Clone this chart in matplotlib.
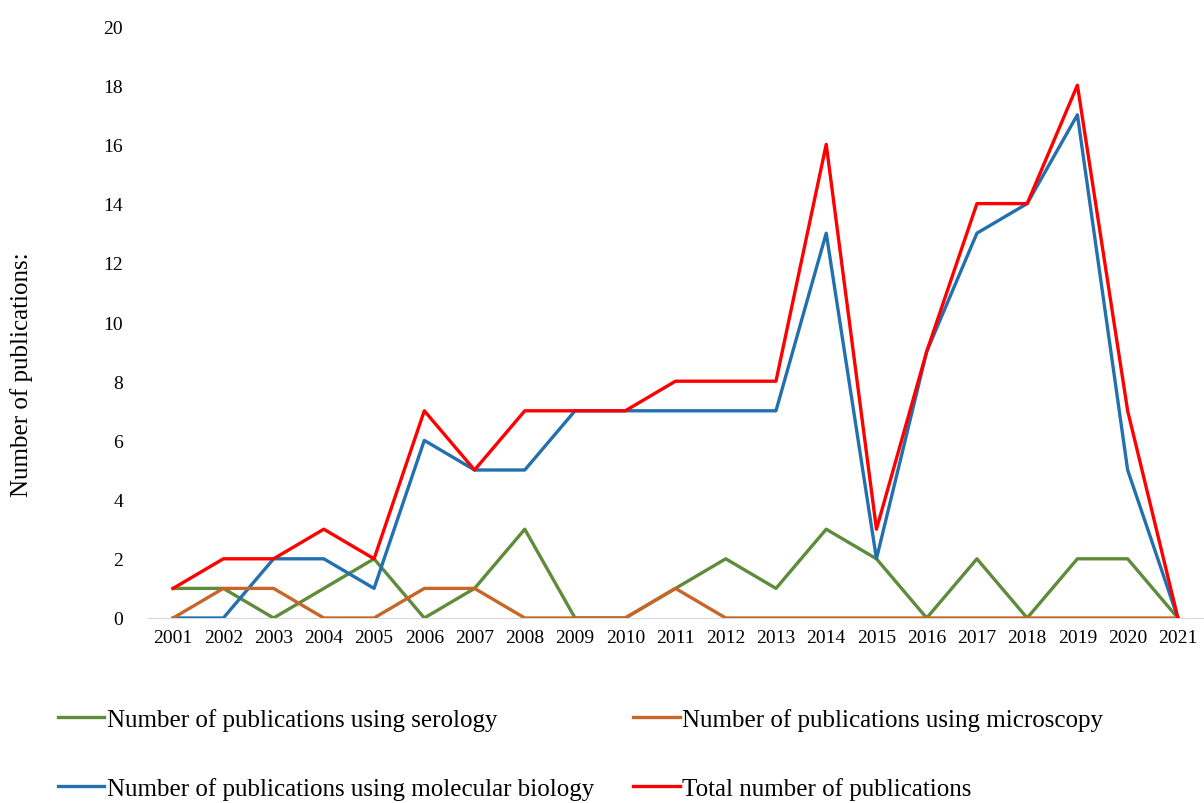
import matplotlib

matplotlib.use("Agg")
import matplotlib.pyplot as plt

years = [str(y) for y in range(2001, 2022)]
serology = [1, 1, 0, 1, 2, 0, 1, 3, 0, 0, 1, 2, 1, 3, 2, 0, 2, 0, 2, 2, 0]
microscopy = [0, 1, 1, 0, 0, 1, 1, 0, 0, 0, 1, 0, 0, 0, 0, 0, 0, 0, 0, 0, 0]
molecular = [0, 0, 2, 2, 1, 6, 5, 5, 7, 7, 7, 7, 7, 13, 2, 9, 13, 14, 17, 5, 0]
total = [1, 2, 2, 3, 2, 7, 5, 7, 7, 7, 8, 8, 8, 16, 3, 9, 14, 14, 18, 7, 0]

plt.rcParams["font.family"] = ["Liberation Serif", "DejaVu Serif"]

fig = plt.figure(figsize=(12.04, 8.04), dpi=100)
ax = fig.add_axes([148 / 1204, 1 - 619 / 804, 1055 / 1204, 592 / 804])

x = list(range(len(years)))
ax.plot(x, serology, color="#5E8C3A", lw=2.4, label="Number of publications using serology")
ax.plot(x, molecular, color="#2271AE", lw=2.4, label="Number of publications using molecular biology")
ax.plot(x, microscopy, color="#C8662A", lw=2.4, label="Number of publications using microscopy")
ax.plot(x, total, color="#FF0000", lw=2.4, label="Total number of publications")

ax.set_xlim(-0.5, len(years) - 0.5)
ax.set_ylim(0, 20)
ax.set_xticks(x)
ax.set_xticklabels(years)
ax.set_yticks(range(0, 21, 2))
ax.tick_params(axis="both", length=0, labelsize=14)
ax.tick_params(axis="y", pad=18)
ax.tick_params(axis="x", pad=8)
for s in ["top", "right", "left"]:
    ax.spines[s].set_visible(False)
ax.spines["bottom"].set_color("#D9D9D9")
ax.spines["bottom"].set_zorder(0)

fig.text(22 / 1204, 1 - 375 / 804, "Number of publications:", rotation=90,
         ha="center", va="center", fontsize=18)

# keep the second row just inside the bottom edge
fig.legend(loc="upper left", bbox_to_anchor=(58 / 1204, 1 - 709 / 804), ncol=2,
           frameon=False, fontsize=18, handlelength=1.85, handletextpad=0.12,
           labelspacing=1.85, columnspacing=1.55, borderaxespad=0, borderpad=0)

fig.savefig("out.png", dpi=100)
